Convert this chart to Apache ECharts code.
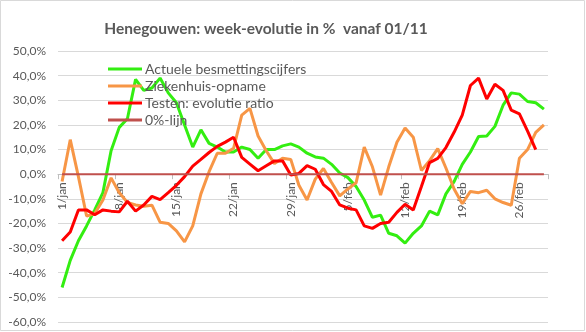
<!DOCTYPE html>
<html>
<head>
<meta charset="utf-8">
<script src="https://cdn.jsdelivr.net/npm/echarts@6/dist/echarts.min.js"></script>
<style>
html,body{margin:0;padding:0;background:#fff;}
#c{width:586px;height:332px;}
</style>
</head>
<body>
<div id="c"></div>
<script>
var categories = [
 '1/jan','2/jan','3/jan','4/jan','5/jan','6/jan','7/jan','8/jan','9/jan','10/jan',
 '11/jan','12/jan','13/jan','14/jan','15/jan','16/jan','17/jan','18/jan','19/jan','20/jan',
 '21/jan','22/jan','23/jan','24/jan','25/jan','26/jan','27/jan','28/jan','29/jan','30/jan',
 '31/jan','1/feb','2/feb','3/feb','4/feb','5/feb','6/feb','7/feb','8/feb','9/feb',
 '10/feb','11/feb','12/feb','13/feb','14/feb','15/feb','16/feb','17/feb','18/feb','19/feb',
 '20/feb','21/feb','22/feb','23/feb','24/feb','25/feb','26/feb','27/feb','28/feb','1/mar'
];
var actueleBesmetting = [
 -46,-35,-27,-21,-14.5,-7.5,9.5,19,22.5,38.5,
 34,35,39,33,29,20,11,18,12.5,11,
 9,9,11,10,6.5,10,10,11.5,12.3,11,
 8.5,7,6.5,4,0.5,-1.4,-5,-10.5,-17.5,-16.6,
 -24,-25,-28,-24,-21,-15,-16.5,-8,-3,4,
 9,15.3,15.5,19.4,28,33,32.5,29.5,29,26.4
];
var ziekenhuisOpname = [
 -3,14,-1,-17,-16,-10.5,-1.5,-7.5,-11.5,-12.5,
 -13,-12.6,-19.5,-20,-23,-27.5,-21,-8,1,8.5,
 8.5,10.5,24,26.7,15.5,9.5,4.3,6.5,6,-4.5,
 -10.5,-2,2.3,-3.4,-8.8,-6,-3.5,11,3,-8.5,
 3,13,18.7,15,1.5,5.5,10.4,2.5,-6,-12,
 -7,-7.5,-6.5,-10,-11.5,-12.6,6.5,10,17,20
];
var testenRatio = [
 -27,-23.5,-14.5,-14.5,-16.5,-14.5,-15,-15.3,-11,-15,
 -12.5,-9,-10.3,-7.5,-4.5,-1,3.3,6,8.8,11.3,
 13,15,6.8,4.1,1.4,3.4,5.4,5.4,-0.3,0.3,
 3.5,2,-4.2,-7,-12.5,-13.8,-14.5,-21,-22,-20,
 -19.5,-15.5,-12.2,-14.5,-5,4.7,6.4,10.8,17,24,
 36,39,30.5,36.5,34,26,24.5,17.5,10,null
];
var nulLijn = categories.map(function(){ return 0; });
var yTicks = {min:-60, max:50, interval:10};

var gridTop = 51, gridBottom = 10, H = 332;
var plotH = H - gridTop - gridBottom;
var zeroFromBottom = plotH * (0 - yTicks.min) / (yTicks.max - yTicks.min);

var chart = echarts.init(document.getElementById('c'), null, {renderer:'canvas'});
var fontFam = 'Lato, "Open Sans", sans-serif';
function lineSeries(name, data, color, width){
  return {name:name, type:'line', data:data, symbol:'none', smooth:false,
    lineStyle:{color:color, width:width}, itemStyle:{color:color},
    emphasis:{disabled:true}, animation:false, connectNulls:false};
}
chart.setOption({
  animation:false,
  backgroundColor:'#ffffff',
  title:{
    text:'Henegouwen: week-evolutie in %  vanaf 01/11',
    left:261, top:16, textAlign:'center',
    textStyle:{fontFamily:fontFam, fontSize:15.5, fontWeight:'bold', color:'#595959'}
  },
  legend:{
    orient:'vertical', left:103, top:57,
    itemWidth:34, itemHeight:3, itemGap:3, icon:'rect',
    textStyle:{fontFamily:fontFam, fontSize:14, color:'#595959', lineHeight:14, padding:[0,0,0,-2]},
    data:['Actuele besmettingscijfers','Ziekenhuis-opname','Testen: evolutie ratio','0%-lijn']
  },
  grid:{left:58, right:38, top:gridTop, bottom:gridBottom, containLabel:false, outerBoundsMode:'none'},
  xAxis:{
    type:'category', data:categories, boundaryGap:true, position:'bottom',
    offset:-zeroFromBottom,
    axisLine:{onZero:false, lineStyle:{color:'#bfbfbf'}},
    axisTick:{show:true, interval:6, length:5, lineStyle:{color:'#bfbfbf'}},
    axisLabel:{interval:6, rotate:90, margin:8, fontFamily:fontFam, fontSize:12, color:'#595959'},
    splitLine:{show:false}
  },
  yAxis:{
    type:'value', min:yTicks.min, max:yTicks.max, interval:yTicks.interval,
    axisLine:{show:false}, axisTick:{show:false},
    axisLabel:{margin:12, fontFamily:fontFam, fontSize:12, color:'#595959',
      formatter:function(v){ return v.toFixed(1).replace('.',',') + '%'; }},
    splitLine:{lineStyle:{color:'#d9d9d9', width:1}}
  },
  graphic:[{type:'rect', shape:{x:0.5,y:0.5,width:584,height:330},
    style:{fill:null, stroke:'#d9d9d9', lineWidth:1}, silent:true, z:-10}],
  series:[
    lineSeries('Actuele besmettingscijfers', actueleBesmetting, '#33ee11', 3),
    lineSeries('Ziekenhuis-opname', ziekenhuisOpname, '#f79646', 3),
    lineSeries('Testen: evolutie ratio', testenRatio, '#ff0000', 3),
    lineSeries('0%-lijn', nulLijn, '#c0504d', 2)
  ]
});
</script>
</body>
</html>
